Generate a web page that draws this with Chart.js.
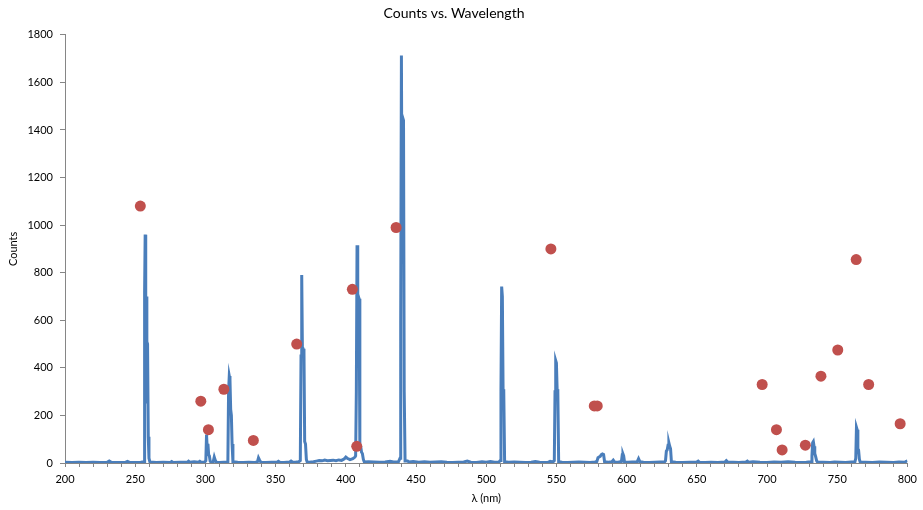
<!DOCTYPE html>
<html>
<head>
<title>Counts vs. Wavelength</title>
<script src="https://cdn.jsdelivr.net/npm/chart.js@4.4.0/dist/chart.umd.min.js"></script>
<style>
    body { margin: 0; background: #fff; }
</style>
</head>
<body>
<canvas id="chartCanvas" width="923" height="510"></canvas>
<script>
const wavelengths = [
    200, 205, 210, 215, 220, 225, 230, 231.5, 233, 238, 243, 244.5, 246, 250, 254,
    256.3, 256.7, 257.1, 257.5, 257.9, 258.3, 258.8, 259.3, 259.8, 260.5,
    265, 270, 275, 276, 277, 282, 287, 288, 289, 292, 295, 296, 297, 299.5,
    300.3, 300.8, 301.3, 301.8, 302.3, 302.8, 303.4, 304.0,
    305.5, 306.3, 307.0, 307.8, 310, 313, 315.5,
    316.0, 316.5, 317.0, 317.5, 318.0, 318.5, 319.0, 319.6,
    323, 327, 331, 335, 337.0, 337.8, 338.6, 339.5,
    343, 347, 351, 352, 353, 356, 360, 361, 362, 364, 366.5,
    367.6, 368.1, 368.6, 369.1, 369.6, 370.2, 370.7, 371.3, 371.9, 372.5,
    374, 377, 379, 381, 383, 385, 387, 389, 391, 393, 395, 397, 399, 400, 401, 403, 405, 406.5,
    407.0, 407.5, 408.0, 408.5, 409.0, 409.5, 410.0, 410.6, 411.2, 411.8, 412.5, 413.2,
    416, 420, 424, 428, 431.5, 434, 437.5,
    438.6, 439.1, 439.6, 440.1, 440.6, 441.1, 441.6, 442.2,
    444, 445, 448, 452, 456, 460, 464, 468, 472, 476, 480, 484, 486.5, 489, 493, 497, 500, 503, 506, 509,
    510.0, 510.5, 511.0, 511.5, 512.0, 512.5, 513.1,
    516, 520, 524, 528, 532, 535, 538, 541, 544, 545.5, 547.5,
    548.5, 549.0, 549.5, 550.0, 550.5, 551.0, 551.6,
    554, 558, 562, 566, 570, 574, 577.5,
    578.8, 579.6, 580.4, 581.2, 582.0, 582.8, 583.6, 584.3,
    587, 589.5, 590.5, 591.5, 594, 596.3,
    596.9, 597.4, 597.9, 598.5,
    601, 604, 607.5, 608.5, 609.5, 612, 616, 620, 624, 627,
    627.7, 628.3, 628.9, 629.5, 630.1, 630.7, 631.3, 631.9,
    635, 640, 645, 650, 651, 652, 656, 660, 665, 670, 671, 672, 676, 680, 685, 686, 687, 690, 695, 700, 705, 710, 715, 720, 725, 728, 731.4,
    732.0, 732.5, 733.0, 733.5, 734.0, 734.6, 735.3, 736.0,
    740, 745, 748, 752, 756, 760, 762.6,
    763.2, 763.7, 764.2, 764.7, 765.2, 765.8, 766.4,
    770, 775, 780, 785, 790, 794, 798, 799.5, 800
];
const counts = [
    3, 2, 3, 2, 3, 2, 3, 8, 3, 2, 3, 7, 3, 2, 3,
    5, 720, 960, 250, 700, 510, 500, 110, 20, 4,
    2, 3, 2, 6, 2, 3, 3, 8, 3, 5, 3, 7, 3, 4,
    10, 120, 60, 80, 35, 30, 8, 3,
    4, 25, 12, 3, 2, 3, 4,
    8, 300, 366, 350, 225, 200, 80, 5,
    3, 2, 3, 2, 4, 22, 12, 3,
    2, 3, 3, 7, 3, 2, 4, 8, 4, 3, 5,
    10, 450, 790, 470, 480, 470, 90, 80, 15, 4,
    3, 5, 8, 10, 9, 12, 10, 11, 12, 10, 13, 11, 18, 25, 20, 14, 18, 25,
    30, 300, 915, 400, 700, 690, 75, 70, 45, 40, 15, 4,
    5, 4, 3, 4, 7, 4, 5,
    20, 600, 1713, 900, 1450, 1440, 300, 8,
    8, 4, 6, 3, 5, 3, 4, 5, 3, 2, 3, 4, 8, 3, 2, 5, 3, 6, 3, 4,
    10, 300, 742, 700, 310, 300, 5,
    3, 4, 3, 2, 3, 6, 3, 2, 3, 7, 4,
    10, 300, 430, 420, 310, 300, 5,
    3, 2, 3, 4, 3, 2, 4,
    6, 22, 25, 28, 35, 38, 36, 5,
    3, 5, 12, 4, 3, 6,
    35, 38, 30, 4,
    3, 4, 5, 18, 5, 3, 2, 3, 4, 4,
    10, 50, 55, 75, 85, 70, 60, 5,
    3, 2, 3, 4, 8, 3, 2, 3, 2, 4, 10, 4, 3, 2, 4, 8, 3, 5, 3, 2, 4, 3, 5, 3, 2, 3, 5,
    30, 85, 90, 70, 40, 28, 10, 3,
    3, 2, 4, 3, 2, 4, 5,
    20, 150, 140, 60, 55, 15, 3,
    3, 2, 4, 3, 2, 4, 3, 8, 10
];

// reference lines (red dots)
const refWavelengths = [253.65, 296.73, 302.15, 313.16, 334.15, 365.02, 404.66, 407.78, 435.83, 546.07,
    576.96, 579.07, 696.54, 706.72, 710.75, 727.29, 738.40, 750.39, 763.51, 772.38, 794.82];
const refCounts = [1080, 260, 140, 310, 95, 500, 730, 70, 990, 900,
    240, 240, 330, 140, 55, 75, 365, 475, 855, 330, 165];

const xTickStep = 10;     // minor ticks every 10 nm, labels every 50
const xLabelEvery = 50;
const yTickStep = 200;

const FONT = 'Lato, "Open Sans", sans-serif';
const AXIS_GRAY = '#868686';

const spectrum = wavelengths.map((w, i) => ({x: w, y: counts[i]}));
const refPoints = refWavelengths.map((w, i) => ({x: w, y: refCounts[i]}));

const config = {
    type: 'scatter',
    data: {
        datasets: [
            {
                label: 'Reference',
                data: refPoints,
                order: 0,
                backgroundColor: '#C0504D',
                borderColor: '#C0504D',
                pointRadius: 5.5,
                borderWidth: 0,
                showLine: false
            },
            {
                label: 'Spectrum',
                data: spectrum,
                order: 1,
                showLine: true,
                borderColor: '#4A7EBB',
                borderWidth: 3,
                pointRadius: 0,
                tension: 0,
                fill: false
            }
        ]
    },
    options: {
        responsive: false,
        animation: false,
        layout: { padding: { right: 15 } },
        plugins: {
            legend: { display: false },
            tooltip: { enabled: false },
            title: {
                display: true,
                text: 'Counts vs. Wavelength',
                color: '#000',
                font: { family: FONT, size: 14, weight: 'normal' },
                padding: { top: 5, bottom: 13 }
            }
        },
        scales: {
            x: {
                type: 'linear',
                min: 200,
                max: 800,
                ticks: {
                    stepSize: xTickStep,
                    maxTicksLimit: 100,
                    autoSkip: false,
                    maxRotation: 0,
                    color: '#000',
                    padding: 6,
                    font: { family: FONT, size: 11 },
                    callback: v => (v % xLabelEvery === 0 ? String(v) : '')
                },
                grid: { drawOnChartArea: false, drawTicks: true, tickLength: 4, color: AXIS_GRAY },
                border: { color: AXIS_GRAY },
                title: {
                    display: true,
                    text: 'λ (nm)',
                    color: '#000',
                    font: { family: FONT, size: 11 },
                    padding: { top: 0, bottom: 5 }
                },
                afterFit: s => { s.height = 47; }
            },
            y: {
                min: 0,
                max: 1800,
                ticks: {
                    stepSize: yTickStep,
                    color: '#000',
                    padding: 7,
                    font: { family: FONT, size: 11 },
                    callback: v => String(v)
                },
                grid: { drawOnChartArea: false, drawTicks: true, tickLength: 5, color: AXIS_GRAY },
                border: { color: AXIS_GRAY },
                title: {
                    display: true,
                    text: 'Counts',
                    color: '#000',
                    font: { family: FONT, size: 11 },
                    padding: { top: 7, bottom: 0 }
                },
                afterFit: s => { s.width = 65; }
            }
        }
    }
};

new Chart(document.getElementById('chartCanvas').getContext('2d'), config);
</script>
</body>
</html>
